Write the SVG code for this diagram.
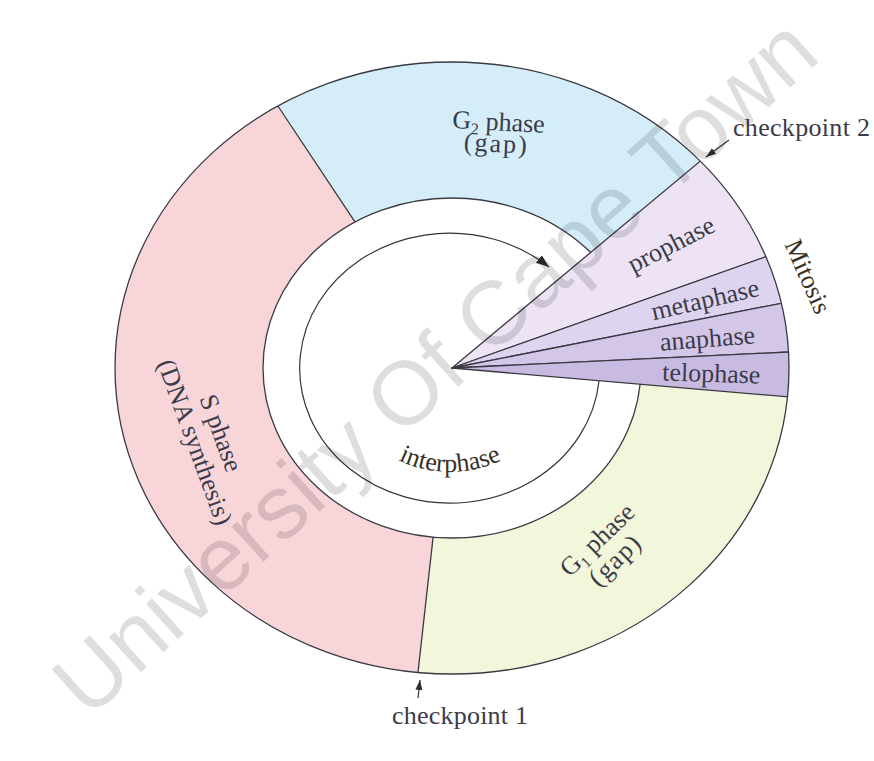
<svg xmlns="http://www.w3.org/2000/svg" width="874" height="761" viewBox="0 0 874 761">
<style>
.lbl{font-family:"Liberation Serif","Times New Roman",serif;fill:#3b3b49;font-size:26px;}
.brn{fill:#3a3024;}
.edge{fill:none;stroke:#3a3a42;stroke-width:1.3;}
.hole{fill:#fff;stroke:#3a3a42;stroke-width:1.3;}
.wedge{stroke:#3a3a42;stroke-width:1.3;stroke-linejoin:round;}
.arr{fill:none;stroke:#333;stroke-width:1.2;}
.wm{font-family:"Liberation Sans",Arial,sans-serif;font-size:90px;fill:#000;fill-opacity:0.13;}
</style>
<defs>
<clipPath id="outerClip"><ellipse cx="452" cy="368" rx="337" ry="306"/></clipPath>
<marker id="ahL" viewBox="0 0 10 10" refX="10" refY="5" markerWidth="13" markerHeight="13" markerUnits="userSpaceOnUse" orient="auto"><path d="M0,1.3 L10,5 L0,8.7 z" fill="#2e2e2e"/></marker>
<marker id="ahS" viewBox="0 0 10 10" refX="10" refY="5" markerWidth="10" markerHeight="10" markerUnits="userSpaceOnUse" orient="auto"><path d="M0,1.5 L10,5 L0,8.5 z" fill="#2e2e2e"/></marker>
<path id="interArc" d="M347 412.5 A119 119 0 0 0 553 412.5"/>
</defs>
<rect width="874" height="761" fill="#fff"/>

<g id="s-phase">
<polygon clip-path="url(#outerClip)" points="452,368 396.5,864.9 -100,900 -100,-100 175.3,-48.4" fill="#f7d5d9"/>
<text class="lbl" text-anchor="middle" transform="translate(213,436) rotate(70)">S phase</text>
<text class="lbl" text-anchor="middle" transform="translate(187,445) rotate(70)">(DNA synthesis)</text>
</g>

<g id="g2-phase">
<polygon clip-path="url(#outerClip)" points="452,368 175.3,-48.4 836.1,-60 836.1,47.9" fill="#d4edf8"/>
<text class="lbl" transform="translate(452,128) rotate(3)">G<tspan font-size="16" dy="5">2</tspan><tspan dy="-5"> phase</tspan></text>
<text class="lbl" text-anchor="middle" letter-spacing="2" transform="translate(496,152) rotate(3)">(gap)</text>
</g>

<g id="g1-phase">
<polygon clip-path="url(#outerClip)" points="452,368 950.2,410.8 950,900 396.5,864.9" fill="#f2f6da"/>
<text class="lbl" text-anchor="middle" transform="translate(603,546) rotate(-44)">G<tspan font-size="16" dy="5">1</tspan><tspan dy="-5"> phase</tspan></text>
<text class="lbl" text-anchor="middle" letter-spacing="1.5" transform="translate(621,566) rotate(-44)">(gap)</text>
</g>

<g id="interphase">
<ellipse cx="452" cy="368" rx="189" ry="170" class="hole"/>
<text class="lbl brn" font-size="25"><textPath href="#interArc" startOffset="50%" text-anchor="middle">interphase</textPath></text>
</g>

<g id="connectors">
<path class="arr" d="M599 381 A150 135 0 1 1 549 267" marker-end="url(#ahL)"/>
<line class="arr" x1="729" y1="140" x2="706" y2="157" marker-end="url(#ahS)"/>
<line class="arr" x1="418" y1="698" x2="420" y2="680" marker-end="url(#ahS)"/>
</g>

<g id="prophase">
<polygon class="wedge" clip-path="url(#outerClip)" points="452,368 836.1,47.9 923.2,200.9" fill="#ede3f4"/>
<text class="lbl" text-anchor="middle" transform="translate(675,252) rotate(-27)">prophase</text>
</g>
<g id="metaphase">
<polygon class="wedge" clip-path="url(#outerClip)" points="452,368 923.2,200.9 942.7,271.6" fill="#dfd4ef"/>
<text class="lbl" text-anchor="middle" transform="translate(707,308) rotate(-13)">metaphase</text>
</g>
<g id="anaphase">
<polygon class="wedge" clip-path="url(#outerClip)" points="452,368 942.7,271.6 951.4,344.3" fill="#d3c6e9"/>
<text class="lbl" text-anchor="middle" transform="translate(708,347) rotate(-4.5)">anaphase</text>
</g>
<g id="telophase">
<polygon class="wedge" clip-path="url(#outerClip)" points="452,368 951.4,344.3 950.2,410.8" fill="#c9bae2"/>
<text class="lbl" text-anchor="middle" transform="translate(711,382) rotate(1.8)">telophase</text>
</g>

<g id="ring-outline">
<ellipse cx="452" cy="368" rx="337" ry="306" class="edge"/>
<line class="edge" x1="355.1" y1="222.1" x2="277.9" y2="106"/>
<line class="edge" x1="433.1" y1="537.1" x2="418" y2="672.4"/>
</g>

<g id="mitosis">
<text class="lbl brn" font-size="24" text-anchor="middle" transform="translate(800,280) rotate(66)">Mitosis</text>
</g>
<g id="checkpoint-2">
<text class="lbl" font-size="21" x="733" y="136" textLength="137" lengthAdjust="spacing">checkpoint 2</text>
</g>
<g id="checkpoint-1">
<text class="lbl" font-size="21" x="392" y="724" textLength="136" lengthAdjust="spacing">checkpoint 1</text>
</g>

<g id="watermark">
<text class="wm" transform="translate(88,720) rotate(-42)">University Of Cape Town</text>
</g>
</svg>
